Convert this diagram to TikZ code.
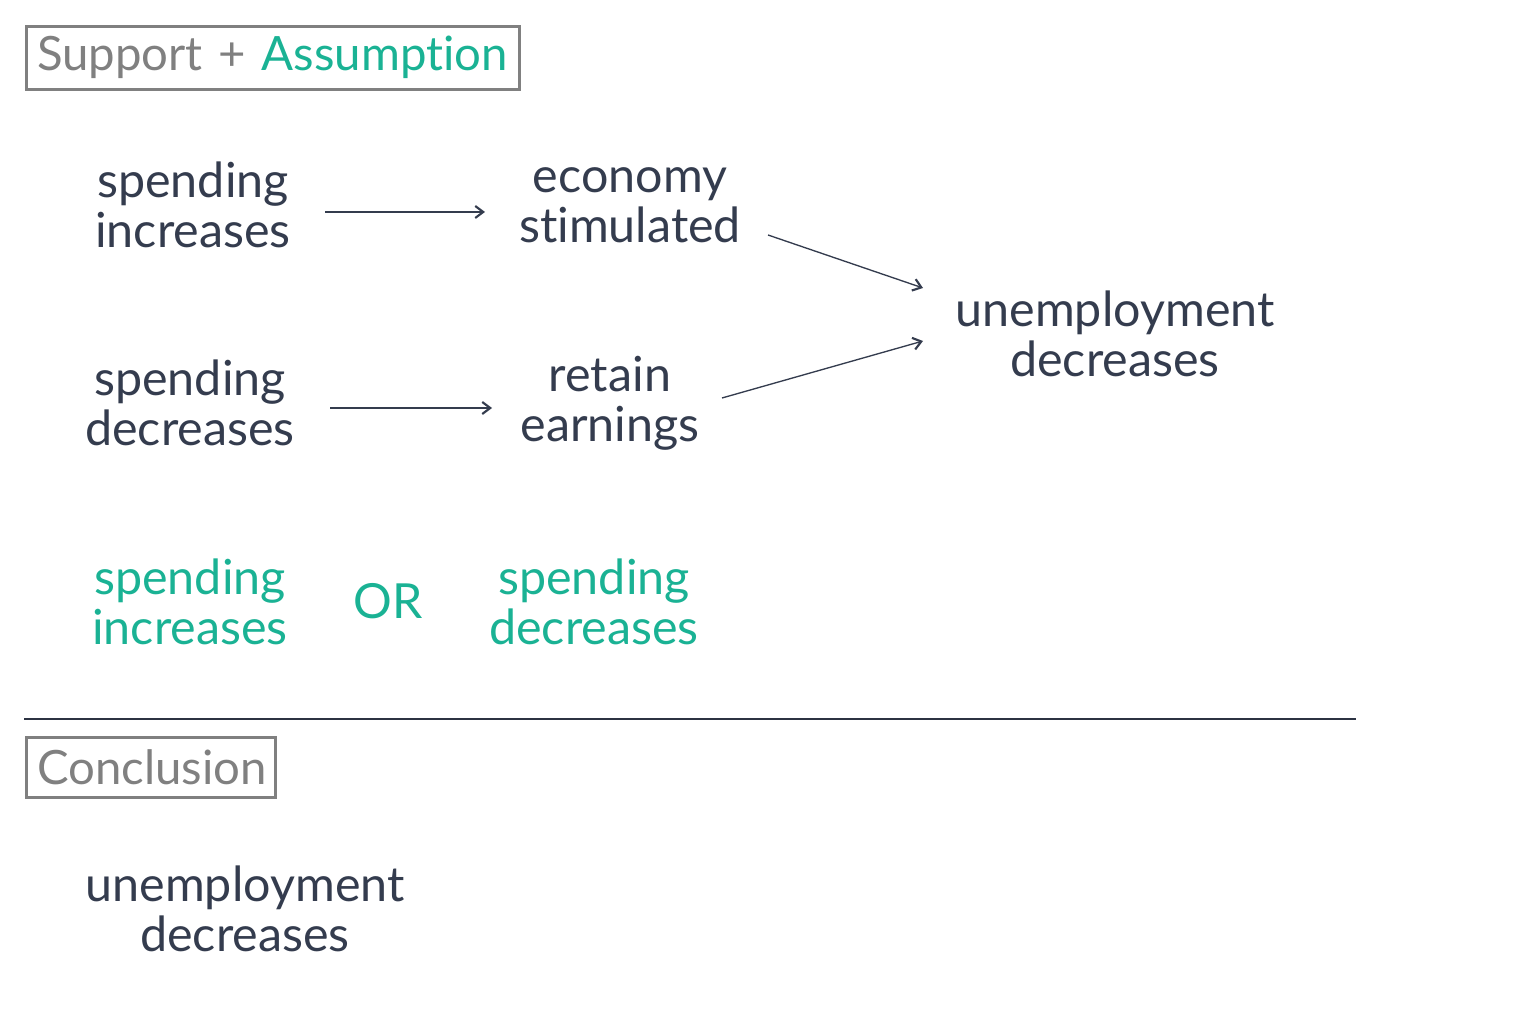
\documentclass[tikz,border=0pt]{standalone}
\usepackage{fontspec}
\setmainfont[Ligatures=NoCommon]{Lato}
\usetikzlibrary{arrows.meta}
\definecolor{ink}{RGB}{52,60,78}
\definecolor{teal}{RGB}{26,178,148}
\definecolor{boxgray}{RGB}{128,128,128}
\tikzset{
  txt/.style={align=center, inner sep=0pt, text=ink, font=\fontsize{36.3}{37.5}\selectfont},
  tealtxt/.style={txt, text=teal},
  lbl/.style={draw=boxgray, line width=2.2pt, inner xsep=8pt, inner ysep=0pt, align=left, text=boxgray, font=\fontsize{35.5}{38}\selectfont},
  arr/.style={draw=ink, line width=1pt, -{Straight Barb[length=6pt,width=9pt,line width=1.6pt]}},
}
\begin{document}
\begin{tikzpicture}[x=0.75pt,y=-0.75pt]
\useasboundingbox (0,0) rectangle (1532,1019);
\node[lbl, text width=354pt, minimum height=47pt, anchor=north west] (hdr) at (25,25) {Support + \textcolor{teal}{Assumption}};
\node[txt] (si) at (193,205) {spending\\increases};
\node[txt] (es) at (630,205) {economy\\stimulated};
\node[txt] (ud) at (1115,334) {unemployment\\decreases};
\node[txt] (sd) at (190,403) {spending\\decreases};
\node[txt] (re) at (610,403) {retain\\earnings};
\node[tealtxt] (si2) at (190,602) {spending\\increases};
\node[tealtxt] (or) at (388,601) {OR};
\node[tealtxt] (sd2) at (594,602) {spending\\decreases};
\coordinate (l1) at (24,719);
\coordinate (l2) at (1356,719);
\draw[ink!85!black, line width=2.2pt] (l1) -- (l2);
\node[lbl, text width=171pt, minimum height=45pt, anchor=north west] (concl) at (25,736) {Conclusion};
\node[txt] (ud2) at (245,909) {unemployment\\decreases};
\coordinate (a1s) at (325,212); \coordinate (a1e) at (485,212);
\coordinate (a2s) at (330,408); \coordinate (a2e) at (492,408);
\coordinate (a3s) at (768,235); \coordinate (a3e) at (923,288);
\coordinate (a4s) at (722,398); \coordinate (a4e) at (923,341);
\draw[arr] (a1s) -- (a1e);
\draw[arr] (a2s) -- (a2e);
\draw[arr] (a3s) -- (a3e);
\draw[arr] (a4s) -- (a4e);
\end{tikzpicture}
\end{document}
